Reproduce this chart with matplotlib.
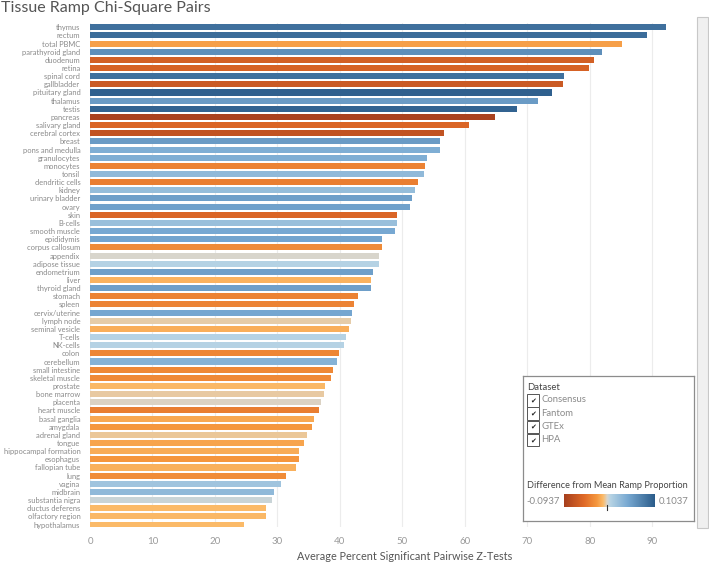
"""
Tissue ramp chi-square pairs: horizontal bars coloured by the
difference from the mean ramp proportion (Tableau-like layout).
"""

import matplotlib
matplotlib.use('Agg')
import matplotlib.pyplot as plt
import numpy as np
from matplotlib.colors import LinearSegmentedColormap, Normalize
from matplotlib.patches import Rectangle

# data
tissues = ['thymus', 'rectum', 'total PBMC', 'parathyroid gland', 'duodenum',
           'retina', 'spinal cord', 'gallbladder', 'pituitary gland', 'thalamus',
           'testis', 'pancreas', 'salivary gland', 'cerebral cortex', 'breast',
           'pons and medulla', 'granulocytes', 'monocytes', 'tonsil',
           'dendritic cells', 'kidney', 'urinary bladder', 'ovary', 'skin',
           'B-cells', 'smooth muscle', 'epididymis', 'corpus callosum',
           'appendix', 'adipose tissue', 'endometrium', 'liver', 'thyroid gland',
           'stomach', 'spleen', 'cervix/uterine', 'lymph node', 'seminal vesicle',
           'T-cells', 'NK-cells', 'colon', 'cerebellum', 'small intestine',
           'skeletal muscle', 'prostate', 'bone marrow', 'placenta',
           'heart muscle', 'basal ganglia', 'amygdala', 'adrenal gland',
           'tongue', 'hippocampal formation', 'esophagus', 'fallopian tube',
           'lung', 'vagina', 'midbrain', 'substantia nigra', 'ductus deferens',
           'olfactory region', 'hypothalamus']

pct_sig = [92.2, 89.2, 85.2, 81.9, 80.6, 79.9, 75.9, 75.7, 74.0, 71.7,
           68.4, 64.9, 60.7, 56.6, 56.1, 56.0, 54.0, 53.7, 53.4, 52.5,
           52.0, 51.6, 51.3, 49.1, 49.1, 48.8, 46.7, 46.7, 46.2, 46.2,
           45.3, 45.0, 45.0, 42.9, 42.2, 42.0, 41.7, 41.5, 40.9, 40.6,
           39.9, 39.5, 38.9, 38.6, 37.6, 37.4, 37.0, 36.7, 35.9, 35.6,
           34.7, 34.3, 33.5, 33.4, 32.9, 31.4, 30.6, 29.4, 29.1, 28.1,
           28.1, 24.6]

ramp_diff = [0.088, 0.090, -0.019, 0.064, -0.060, -0.058, 0.088, -0.066, 0.100, 0.055,
             0.098, -0.090, -0.055, -0.073, 0.055, 0.040, 0.040, -0.035, 0.030, -0.038,
             0.027, 0.052, 0.050, -0.055, 0.025, 0.045, 0.048, -0.030, 0.000, 0.008,
             0.052, -0.012, 0.052, -0.035, -0.035, 0.046, -0.003, -0.014, 0.008, 0.008,
             -0.033, 0.036, -0.032, -0.031, -0.010, -0.004, -0.001, -0.038, -0.016, -0.022,
             -0.005, -0.018, -0.015, -0.023, -0.013, -0.029, 0.020, 0.030, 0.003, -0.009,
             -0.010, -0.009]

datasets = ['Consensus', 'Fantom', 'GTEx', 'HPA']
vmin, vmax = -0.0937, 0.1037

# plotting
W, H = 709, 563
fig = plt.figure(figsize=(W/100, H/100), dpi=100)
plt.rcParams['font.family'] = ['Lato', 'DejaVu Sans']

cmap = LinearSegmentedColormap.from_list('orange_blue', [
    (0.0, '#a63f1e'), (0.22, '#e06a27'), (0.36, '#f5973e'), (0.43, '#fbbb6a'),
    (0.475, '#d8d5cd'), (0.51, '#b6d3e4'), (0.70, '#78a9d2'), (1.0, '#2b5c8a')])
norm = Normalize(vmin=vmin, vmax=vmax)

def fx(px):
    return px/W

def fy(py):
    return 1 - py/H

ax = fig.add_axes([fx(90), fy(527), fx(696) - fx(90), fy(23.2) - fy(527)])
ypos = np.arange(len(tissues))
ax.barh(ypos, pct_sig, height=0.74, color=cmap(norm(np.array(ramp_diff))), zorder=2)
ax.set_xlim(0, 97)
ax.set_ylim(61.3, -0.5)
ax.set_yticks(ypos)
ax.set_yticklabels(tissues, fontsize=5.4, color='#8a8a8a')
ax.set_xticks(np.arange(0, 100, 10))
ax.tick_params(axis='x', labelsize=7, colors='#9a9a9a', length=0, pad=7)
ax.tick_params(axis='y', length=0, pad=7)
ax.grid(True, axis='x', color='#ececec', linewidth=0.8, zorder=0)
for sp in ax.spines.values():
    sp.set_visible(False)

fig.text(fx(405), fy(557), 'Average Percent Significant Pairwise Z-Tests', fontsize=7.8,
         color='#555555', va='center', ha='center')
fig.text(fx(1), fy(8), 'Tissue Ramp Chi-Square Pairs', fontsize=11.5,
         color='#555555', va='center', ha='left')

# scroll bar on the right
fig.patches.append(Rectangle((fx(697), fy(528)), fx(708) - fx(697), fy(17) - fy(528),
                             transform=fig.transFigure, fc='#f0f0f0', ec='#c8c8c8',
                             lw=0.8))

# legend box
lax = fig.add_axes([fx(523), fy(521), fx(694) - fx(523), fy(376) - fy(521)])
lax.set_xticks([])
lax.set_yticks([])
for sp in lax.spines.values():
    sp.set_color('#8c8c8c')
    sp.set_linewidth(0.9)
lax.text(527, 388, 'Dataset', fontsize=6.8, color='#444444', va='center', ha='left')
for i, ds in enumerate(datasets):
    yy = 400 + i*13.3
    lax.add_patch(Rectangle((526.5, yy - 6), 12.5, 12.5, fc='white', ec='#555555', lw=0.7))
    lax.text(532.8, yy + 0.3, '\u2714', fontsize=5, color='#222222', ha='center',
             va='center', family='DejaVu Sans')
    lax.text(541.5, yy, ds, fontsize=6.8, color='#8a8a8a', va='center', ha='left')
lax.text(527, 486, 'Difference from Mean Ramp Proportion', fontsize=6.6,
         color='#444444', va='center', ha='left')
grad = np.linspace(0, 1, 256).reshape(1, -1)
lax.imshow(grad, cmap=cmap, aspect='auto', extent=(564, 655, 507.5, 494.5), zorder=2)
zero_x = 564 + (0 - vmin)/(vmax - vmin)*(655 - 564)
lax.plot([zero_x, zero_x], [505, 510], color='#333333', lw=0.8, zorder=3)
lax.text(560, 501, '%.4f' % vmin, fontsize=6.8, color='#8a8a8a', va='center', ha='right')
lax.text(659, 501, '%.4f' % vmax, fontsize=6.8, color='#8a8a8a', va='center', ha='left')
lax.set_xlim(523, 694)
lax.set_ylim(521, 376)

fig.savefig('out.png', dpi=100)
